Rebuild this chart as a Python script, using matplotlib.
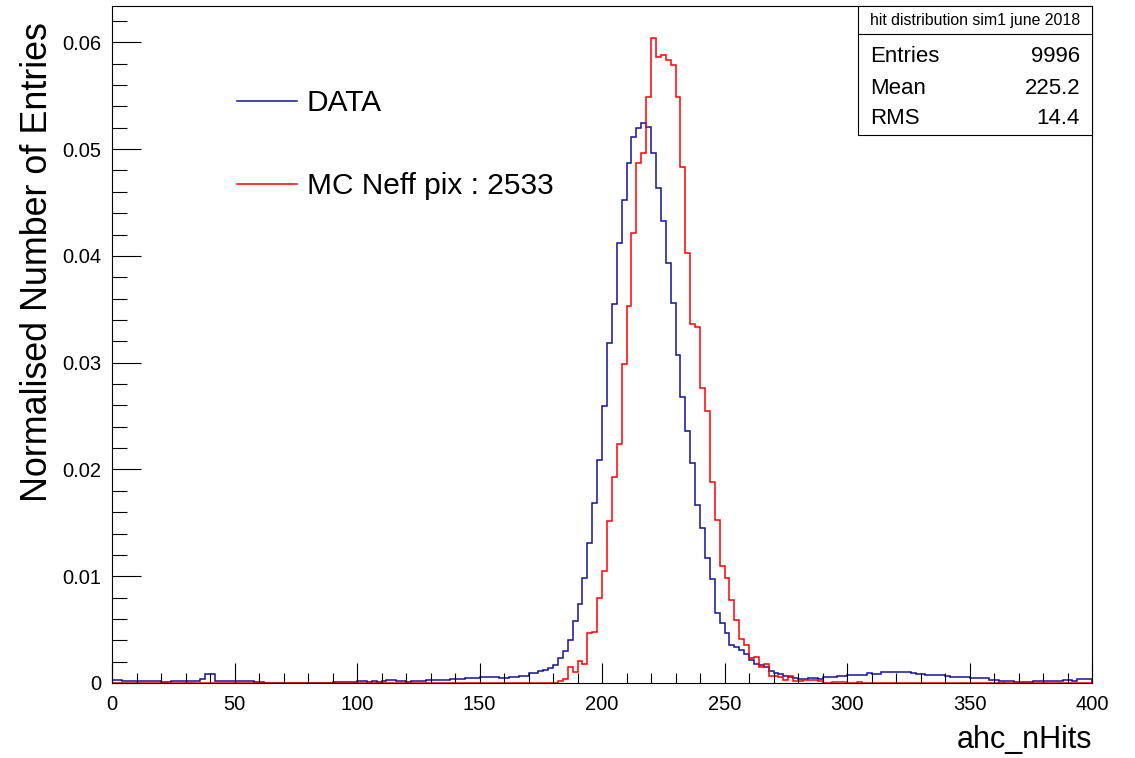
"""
hit distribution: DATA 与 MC 的 ahc_nHits 归一化分布对比
"""

import numpy as np
import matplotlib.pyplot as plt
from matplotlib.ticker import MultipleLocator, FuncFormatter
from matplotlib.patches import Rectangle
from matplotlib.lines import Line2D

plt.rcParams['font.family'] = ['Liberation Sans', 'DejaVu Sans']

# 分箱: 0-400, 宽度 2 (共 200 个)
bin_width = 2
x_min, x_max = 0, 400

# DATA (蓝色), 每行 10 个分箱
data_counts = [
    0.00025, 0.0003, 0.00016, 0.00016, 0.00016, 0.00016, 0.00016, 0.00016, 0.00016, 0.00016,   # 0-18
    0.00005, 0.00005, 0.00016, 0.00016, 0.00016, 0.00016, 0.00016, 0.00016, 0.0004, 0.00084,   # 20-38
    0.0008, 0.00016, 0.00016, 0.00016, 0.00016, 0.00016, 0.00016, 0.00016, 0.00016, 0.00006,   # 40-58
    0.00006, 0.00003, 0.00003, 0.0, 0.00003, 0.00003, 0.0, 0.00003, 0.00003, 0.00003,          # 60-78
    0.00003, 0.0, 0.00003, 0.00003, 0.0, 0.00006, 0.00006, 0.00006, 0.00006, 0.00006,          # 80-98
    0.00016, 0.00016, 0.00006, 0.00022, 0.00006, 0.00016, 0.00025, 0.00025, 0.00016, 0.00016,  # 100-118
    0.00006, 0.00022, 0.00022, 0.00022, 0.00031, 0.00031, 0.00031, 0.00031, 0.00031, 0.00037,  # 120-138
    0.00037, 0.00037, 0.00047, 0.00047, 0.00047, 0.00053, 0.00053, 0.00053, 0.00053, 0.00047,  # 140-158
    0.00047, 0.0006, 0.0006, 0.00069, 0.00069, 0.00094, 0.00094, 0.0011, 0.0012, 0.0014,       # 160-178
    0.0017, 0.0023, 0.0030, 0.0040, 0.0058, 0.0074, 0.0098, 0.0131, 0.0169, 0.0209,            # 180-198
    0.0259, 0.0318, 0.0355, 0.0412, 0.0452, 0.0487, 0.0511, 0.0520, 0.0524, 0.0521,            # 200-218
    0.0496, 0.0464, 0.0433, 0.0393, 0.0356, 0.0307, 0.0268, 0.0236, 0.0206, 0.0167,            # 220-238
    0.0145, 0.0117, 0.0097, 0.0066, 0.0056, 0.0047, 0.0036, 0.0034, 0.0031, 0.0027,            # 240-258
    0.0022, 0.0018, 0.0017, 0.0015, 0.0011, 0.0009, 0.0008, 0.0007, 0.0006, 0.0005,            # 260-278
    0.00037, 0.00037, 0.00044, 0.00044, 0.00037, 0.00053, 0.00053, 0.00059, 0.00069, 0.00069,  # 280-298
    0.00078, 0.00078, 0.00078, 0.00078, 0.0009, 0.00084, 0.00084, 0.001, 0.001, 0.00106,       # 300-318
    0.001, 0.001, 0.001, 0.0009, 0.00084, 0.00084, 0.00078, 0.00078, 0.00078, 0.00078,         # 320-338
    0.00069, 0.00053, 0.00053, 0.00053, 0.00053, 0.00044, 0.00044, 0.00044, 0.00044, 0.00028,  # 340-358
    0.00028, 0.00022, 0.00022, 0.00022, 0.00012, 0.00012, 0.00012, 0.00006, 0.00022, 0.00022,  # 360-378
    0.00022, 0.00022, 0.00022, 0.00022, 0.00028, 0.00028, 0.00022, 0.00037, 0.00037, 0.00037,  # 380-398
]

# MC Neff pix : 2533 (红色), 0-178 全为 0
mc_counts = [0.0] * 90 + [
    0.0, 0.0002, 0.0004, 0.0015, 0.0010, 0.0021, 0.0018, 0.0047, 0.0048, 0.0080,               # 180-198
    0.0105, 0.0152, 0.0193, 0.0224, 0.0299, 0.0353, 0.0421, 0.0487, 0.0496, 0.0549,            # 200-218
    0.0604, 0.0586, 0.0588, 0.0583, 0.0579, 0.0549, 0.0483, 0.0403, 0.0336, 0.0333,            # 220-238
    0.0276, 0.0255, 0.0188, 0.0153, 0.0110, 0.0098, 0.0078, 0.0059, 0.0041, 0.0036,            # 240-258
    0.0023, 0.0024, 0.0015, 0.0018, 0.0007, 0.0007, 0.0006, 0.0003, 0.0007, 0.0002,            # 260-278
    0.0002, 0.0003, 0.0003, 0.0003, 0.0002, 0.0, 0.0, 0.0001, 0.0001, 0.0001,                  # 280-298
    0.0, 0.0, 0.0001, 0.0, 0.0, 0.0, 0.0, 0.0, 0.0, 0.0,                                       # 300-318
    0.0, 0.0, 0.0, 0.0, 0.0, 0.0, 0.0, 0.0, 0.0, 0.0,                                          # 320-338
    0.0, 0.0, 0.0, 0.0, 0.0, 0.0, 0.0, 0.0, 0.0, 0.0,                                          # 340-358
    0.0, 0.0001, 0.0, 0.0, 0.0, 0.0, 0.0, 0.0, 0.0, 0.0,                                       # 360-378
    0.0, 0.0, 0.0, 0.0, 0.0, 0.0, 0.0, 0.0, 0.0, 0.0,                                          # 380-398
]

series_labels = ['DATA', 'MC Neff pix : 2533']
series_colors = ['#12129e', '#ff0000']

stat_title = 'hit distribution sim1 june 2018'
stat_names = ['Entries', 'Mean', 'RMS']
stat_values = ['9996', '225.2', '14.4']

edges = np.arange(x_min, x_max + bin_width, bin_width)

W, H = 1135, 758
fig = plt.figure(figsize=(W / 100, H / 100), dpi=100)
ax = fig.add_axes([112 / W, 1 - 683 / H, (1092 - 112) / W, (683 - 6) / H])

for counts, label, color in zip([data_counts, mc_counts], series_labels, series_colors):
    ax.stairs(counts, edges, color=color, lw=1.1, label=label)

ax.set_xlim(x_min, x_max)
ax.set_ylim(0, 0.0634)

# ROOT 风格刻度: 朝内, 只在左侧和底部
ax.xaxis.set_major_locator(MultipleLocator(50))
ax.xaxis.set_minor_locator(MultipleLocator(10))
ax.yaxis.set_major_locator(MultipleLocator(0.01))
ax.yaxis.set_minor_locator(MultipleLocator(0.002))
ax.yaxis.set_major_formatter(FuncFormatter(lambda v, p: '0' if abs(v) < 1e-9 else f'{v:.2f}'))
ax.tick_params(axis='both', which='both', direction='in', top=False, right=False,
               width=0.8, labelsize=14.5)
ax.tick_params(axis='x', which='major', length=14.4, pad=9)
ax.tick_params(axis='x', which='minor', length=7.2)
ax.tick_params(axis='y', which='major', length=21, pad=8)
ax.tick_params(axis='y', which='minor', length=10.5)
for sp in ax.spines.values():
    sp.set_linewidth(0.8)

fig.text(38 / W, 1 - 262 / H, 'Normalised Number of Entries', rotation=90,
         ha='center', va='center', fontsize=25.8)
fig.text(1092 / W, 1 - 740 / H, 'ahc_nHits', ha='right', va='center', fontsize=22)

ax.legend(loc='upper left', bbox_to_anchor=(237 / W, 1 - 89 / H),
          bbox_transform=fig.transFigure, frameon=False, fontsize=21.5,
          handlelength=2.0, handletextpad=0.33, labelspacing=1.85, borderpad=0,
          borderaxespad=0)

# 统计框
bx0, bx1, by0, by1, bsep = 858, 1092, 6, 135, 33.5
fig.add_artist(Rectangle((bx0 / W, 1 - by1 / H), (bx1 - bx0) / W, (by1 - by0) / H,
                         transform=fig.transFigure, facecolor='white',
                         edgecolor='black', lw=0.8, zorder=5))
fig.add_artist(Line2D([bx0 / W, bx1 / W], [1 - bsep / H, 1 - bsep / H],
                      transform=fig.transFigure, color='black', lw=0.8, zorder=6))
fig.text((bx0 + bx1) / 2 / W, 1 - 20.5 / H, stat_title, ha='center', va='center',
         fontsize=11.4, zorder=7)
for i, (name, val) in enumerate(zip(stat_names, stat_values)):
    yy = 1 - (57 + i * 31) / H
    fig.text(870 / W, yy, name, ha='left', va='center', fontsize=16, zorder=7)
    fig.text(1080 / W, yy, val, ha='right', va='center', fontsize=16, zorder=7)

fig.savefig('out.png', dpi=100)
